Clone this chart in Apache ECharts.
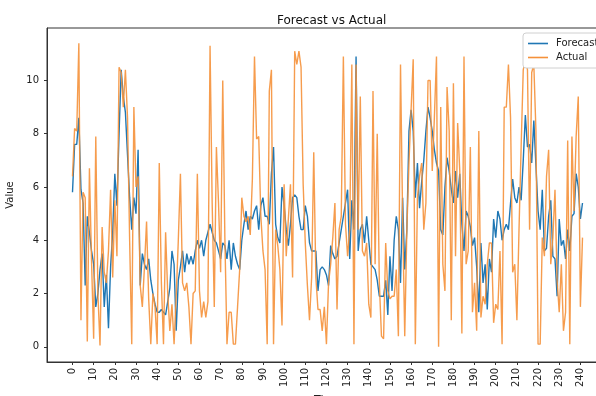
<!DOCTYPE html>
<html lang="en">
<head>
    <meta charset="UTF-8">
    <title>Forecast vs Actual</title>
    <script src="https://cdn.jsdelivr.net/npm/echarts@6.0.0/dist/echarts.min.js"></script>
    <style>
        html, body {
            margin: 0;
            padding: 0;
            background: #fff;
        }
    </style>
</head>
<body>
<div id="main" style="width: 596px;height: 396px;"></div>
<script>
    // values, one per time step
    var forecast = [
        5.8, 7.6, 7.6, 8.6, 5.9, 5.4, 2.3, 4.9, 4.3, 3.6,
        3.1, 1.5, 2.0, 2.9, 3.5, 1.5, 2.7, 0.7, 3.0, 4.3,
        6.5, 5.3, 8.0, 10.4, 9.4, 8.8, 7.2, 5.6, 4.4, 5.6,
        5.0, 7.4, 2.3, 3.5, 3.1, 2.9, 3.3, 2.5, 2.0, 1.6,
        1.3, 1.3, 1.4, 1.3, 1.2, 1.7, 2.2, 3.6, 3.1, 0.6,
        2.5, 3.0, 3.6, 2.8, 3.5, 3.1, 3.4, 3.1, 3.6, 4.0,
        3.7, 4.0, 3.4, 4.0, 4.3, 4.6, 4.3, 4.0, 3.9, 3.6,
        3.3, 3.9, 3.8, 3.3, 4.0, 2.9, 3.9, 3.4, 3.1, 2.9,
        4.0, 4.6, 5.1, 4.4, 4.9, 4.8, 5.1, 5.3, 4.4, 5.3,
        5.6, 4.9, 4.9, 4.6, 6.5, 7.5, 4.6, 4.1, 3.9, 6.0,
        5.3, 4.4, 3.8, 4.6, 5.6, 5.7, 5.6, 4.9, 4.4, 4.4,
        5.3, 4.9, 3.9, 3.6, 3.6, 3.6, 2.1, 2.9, 3.0, 2.9,
        2.7, 2.3, 3.8, 3.5, 3.3, 3.4, 3.9, 4.4, 4.9, 5.4,
        5.9, 3.3, 5.5, 4.4, 10.9, 3.6, 4.4, 4.6, 3.9, 4.9,
        4.0, 3.1, 3.0, 2.9, 2.5, 1.9, 1.9, 1.9, 2.5, 1.2,
        3.4, 2.1, 4.0, 4.9, 4.4, 2.4, 5.6, 2.9, 4.4, 8.1,
        8.9, 8.1, 5.6, 6.9, 5.2, 6.2, 7.0, 8.1, 9.0, 8.6,
        8.1, 7.4, 6.9, 6.6, 4.4, 4.2, 6.0, 7.1, 6.6, 5.9,
        5.4, 6.6, 5.6, 6.5, 4.6, 3.6, 5.1, 4.9, 4.5, 3.8,
        4.1, 3.0, 1.3, 3.9, 2.4, 3.1, 1.4, 3.3, 2.8, 4.8,
        4.1, 5.1, 4.8, 4.0, 4.4, 4.6, 4.4, 5.4, 6.3, 5.6,
        5.4, 6.0, 5.5, 7.0, 8.7, 7.5, 7.6, 6.9, 8.5, 6.8,
        5.1, 4.4, 5.9, 3.6, 3.7, 4.9, 5.5, 3.4, 3.3, 1.9,
        4.8, 3.8, 4.0, 3.3, 4.4, 3.6, 4.9, 5.0, 6.5, 6.0,
        4.8, 5.4
    ];
    var actual = [
        6.4, 8.2, 8.1, 11.4, 1.0, 5.8, 5.6, 0.2, 6.7, 3.2,
        0.3, 7.9, 2.0, 0.05, 4.5, 2.8, 2.4, 3.6, 5.9, 2.6,
        5.5, 3.4, 10.5, 10.3, 9.0, 10.4, 8.6, 4.0, 0.1, 9.0,
        6.0, 6.4, 2.3, 1.5, 3.0, 4.7, 1.8, 0.1, 2.0, 1.5,
        0.1, 6.9, 2.4, 0.1, 4.3, 2.0, 0.6, 1.6, 0.1, 1.9,
        4.0, 6.5, 2.4, 2.1, 2.4, 1.5, 0.1, 2.0, 2.1, 6.5,
        2.1, 1.1, 1.7, 1.1, 1.7, 11.3, 5.4, 1.5, 7.5, 5.4,
        2.8, 10.0, 4.1, 0.1, 1.3, 1.3, 0.1, 0.1, 1.5, 2.9,
        5.6, 4.9, 4.7, 4.9, 4.2, 6.3, 10.9, 7.8, 7.9, 4.9,
        3.6, 2.9, 0.1, 9.6, 10.4, 0.1, 4.4, 3.8, 2.9, 0.8,
        6.1, 3.4, 4.8, 6.1, 2.6, 11.1, 10.6, 11.1, 10.5, 6.1,
        3.9, 2.3, 1.0, 2.6, 7.3, 2.6, 1.4, 1.4, 0.6, 1.5,
        0.1, 2.4, 3.1, 4.1, 5.4, 1.4, 4.4, 4.9, 10.9, 4.6,
        3.4, 4.4, 10.6, 0.1, 10.6, 4.4, 9.4, 3.6, 3.4, 3.9,
        1.6, 1.1, 9.6, 3.1, 8.0, 2.4, 0.4, 0.3, 3.9, 2.1,
        1.8, 1.9, 1.9, 2.9, 0.4, 10.6, 4.9, 0.4, 4.4, 6.9,
        8.9, 10.8, 0.1, 5.6, 6.4, 6.9, 4.4, 5.4, 10.0, 10.0,
        6.6, 8.6, 10.9, 0.0, 9.0, 3.1, 2.1, 9.75, 8.1, 1.0,
        9.9, 3.4, 8.4, 6.6, 0.5, 10.9, 3.1, 3.6, 7.5, 1.3,
        2.4, 0.6, 8.1, 1.1, 1.9, 1.6, 3.1, 3.9, 3.9, 0.9,
        1.6, 1.4, 3.6, 0.1, 9.0, 9.0, 10.6, 8.6, 2.8, 3.1,
        1.0, 4.4, 7.5, 10.4, 10.8, 10.4, 4.4, 10.3, 10.6, 8.1,
        0.1, 0.1, 4.1, 3.4, 6.4, 7.4, 3.1, 4.1, 5.9, 2.5,
        1.3, 3.1, 0.6, 1.3, 7.75, 0.1, 7.9, 5.1, 7.9, 9.4,
        1.5, 4.1
    ];
    var xTicks = [0, 10, 20, 30, 40, 50, 60, 70, 80, 90, 100, 110, 120,
        130, 140, 150, 160, 170, 180, 190, 200, 210, 220, 230, 240];
    var yTicks = [0, 2, 4, 6, 8, 10];

    var myChart = echarts.init(document.getElementById('main'));

    // time step is the index of each value
    function toPairs(arr) {
        return arr.map(function (v, i) {
            return [i, v];
        });
    }

    var font = 'DejaVu Sans';

    var option = {
        animation: false,
        backgroundColor: '#fff',
        title: {
            text: 'Forecast vs Actual',
            left: 272,
            top: 10,
            textStyle: {
                fontFamily: font,
                fontSize: 12,
                fontWeight: 'normal',
                color: '#111'
            }
        },
        legend: {
            orient: 'vertical',
            left: 523,
            top: 33,
            padding: [5, 8, 5, 5],
            icon: 'rect',
            itemWidth: 20,
            itemHeight: 1.6,
            itemGap: 3,
            backgroundColor: '#fff',
            borderColor: '#d0d0d0',
            borderWidth: 1,
            borderRadius: 3,
            textStyle: {
                fontFamily: font,
                fontSize: 10,
                color: '#222',
                lineHeight: 11,
                padding: [0, 0, 0, 3]
            },
            data: ['Forecast', 'Actual']
        },
        grid: {
            left: 47,
            top: 28,
            width: 561,
            height: 334,
            show: true,
            borderColor: '#333',
            borderWidth: 1,
            containLabel: false,
            outerBoundsMode: 'none'
        },
        xAxis: {
            type: 'value',
            min: -12.05,
            max: 253.05,
            name: 'Time',
            nameLocation: 'middle',
            nameGap: 31,
            nameTextStyle: {
                fontFamily: font,
                fontSize: 11,
                color: '#222'
            },
            splitLine: {show: false},
            axisLine: {show: true, onZero: false, lineStyle: {color: '#333', width: 1}},
            axisTick: {
                show: true,
                length: 3,
                customValues: xTicks,
                lineStyle: {color: '#333'}
            },
            axisLabel: {
                customValues: xTicks,
                rotate: 90,
                margin: 6,
                fontFamily: font,
                fontSize: 10,
                color: '#222'
            }
        },
        yAxis: {
            type: 'value',
            min: -0.57,
            max: 11.97,
            name: 'Value',
            nameLocation: 'middle',
            nameGap: 23,
            nameRotate: 90,
            nameTextStyle: {
                fontFamily: font,
                fontSize: 10,
                color: '#222'
            },
            splitLine: {show: false},
            axisLine: {show: true, onZero: false, lineStyle: {color: '#333', width: 1}},
            axisTick: {
                show: true,
                length: 3,
                customValues: yTicks,
                lineStyle: {color: '#333'}
            },
            axisLabel: {
                customValues: yTicks,
                margin: 8,
                fontFamily: font,
                fontSize: 10,
                color: '#222'
            }
        },
        series: [{
            name: 'Forecast',
            type: 'line',
            symbol: 'none',
            data: toPairs(forecast),
            color: '#1f77b4',
            lineStyle: {width: 1.4, color: '#1f77b4'}
        }, {
            name: 'Actual',
            type: 'line',
            symbol: 'none',
            data: toPairs(actual),
            color: '#f5913a',
            lineStyle: {width: 1.4, color: '#f5913a', opacity: 0.9}
        }]
    };

    myChart.setOption(option);
</script>
</body>
</html>
